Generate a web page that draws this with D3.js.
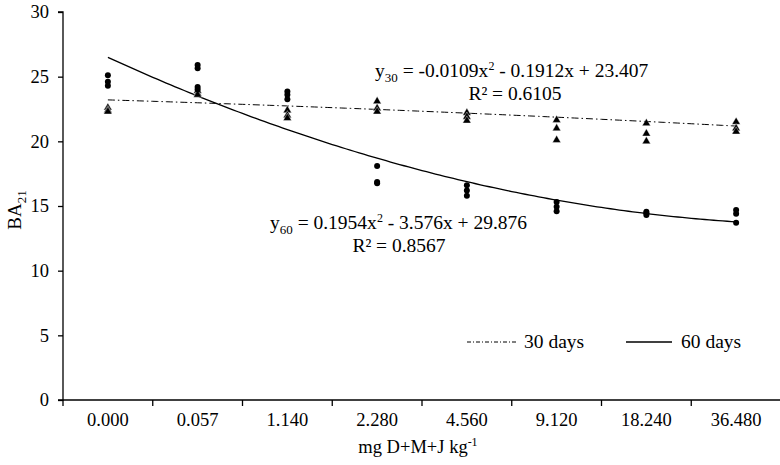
<!DOCTYPE html>
<html>
<head>
<meta charset="utf-8">
<script src="https://cdn.jsdelivr.net/npm/d3@7"></script>
<style>
  html, body { margin: 0; padding: 0; background: #fff; }
  svg { display: block; font-family: "Liberation Serif", "Times New Roman", serif; }
</style>
</head>
<body>
<svg id="chart" width="780" height="465"></svg>
<script>
const categories = ["0.000", "0.057", "1.140", "2.280", "4.560", "9.120", "18.240", "36.480"];
const yTicks = [0, 5, 10, 15, 20, 25, 30];
// observed values (3 replicates per dose)
const days30 = [
  [22.6, 22.4, 22.3],
  [23.9, 23.7, 23.6],
  [22.4, 22.0, 21.8],
  [23.1, 22.55, 22.3],
  [22.2, 21.9, 21.6],
  [21.65, 21.0, 20.1],
  [21.4, 20.6, 20.0],
  [21.5, 21.0, 20.75]
];
const days60 = [
  [25.1, 24.6, 24.3],
  [25.9, 25.65, 24.2, 24.0],
  [23.85, 23.6, 23.25],
  [18.1, 16.85, 16.75],
  [16.6, 16.2, 15.8],
  [15.3, 14.95, 14.6],
  [14.55, 14.45, 14.3],
  [14.7, 14.4, 13.7]
];
// regression coefficients [a, b, c] for a*x^2 + b*x + c
const fit30 = [-0.0109, -0.1912, 23.407];
const fit60 = [0.1954, -3.576, 29.876];
const legendLabels = ["30 days", "60 days"];

const svg = d3.select("#chart");
const mLeft = 63, mRight = 781, mTop = 12, mBottom = 400;
const FS = 19;

const x = d3.scaleBand().domain(categories).range([mLeft, mRight]).padding(0);
const y = d3.scaleLinear().domain([0, 30]).range([mBottom, mTop]);
const xi = d3.scaleLinear().domain([1, categories.length])
  .range([x(categories[0]) + x.bandwidth() / 2, x(categories[categories.length - 1]) + x.bandwidth() / 2]);

// Axes
const yAxis = d3.axisLeft(y).tickValues(yTicks).tickSize(5).tickPadding(9).tickFormat(d3.format("d"));
const gy = svg.append("g").attr("transform", `translate(${mLeft},0)`).call(yAxis);
gy.select(".domain").attr("stroke", "#000").attr("stroke-width", 1.3).attr("d", `M-5,${mTop}H0V${mBottom}H-5`);
gy.selectAll("text").attr("font-size", 18.5).attr("font-family", "Liberation Serif").attr("fill", "#000");
gy.selectAll("line").attr("stroke", "#000").attr("stroke-width", 1.3);

const xAxis = d3.axisBottom(x).tickSize(0).tickPadding(13);
const gx = svg.append("g").attr("transform", `translate(0,${mBottom})`).call(xAxis);
gx.select(".domain").attr("stroke", "#000").attr("stroke-width", 1.3).attr("d", `M${mLeft},0H${mRight}`);
gx.selectAll("text").attr("font-size", 18.5).attr("font-family", "Liberation Serif").attr("fill", "#000");
// boundary ticks
const bounds = categories.map(c => x(c)).concat([x(categories[categories.length - 1]) + x.bandwidth()]);
svg.append("g").selectAll("line").data(bounds).join("line")
  .attr("x1", d => d).attr("x2", d => d).attr("y1", mBottom).attr("y2", mBottom + 6)
  .attr("stroke", "#000").attr("stroke-width", 1.3);

// Axis titles
svg.append("text").attr("x", 418).attr("y", 453).attr("text-anchor", "middle")
  .attr("font-size", 18.5).attr("fill", "#000")
  .html('mg D+M+J kg<tspan dy="-7" font-size="12">-1</tspan>');
svg.append("text").attr("transform", `translate(21,${(mTop + mBottom) / 2 + 4}) rotate(-90)`)
  .attr("text-anchor", "middle").attr("font-size", FS).attr("fill", "#000")
  .html('BA<tspan dy="5" font-size="13">21</tspan>');

// Fitted curves
function curve(fit) {
  const pts = d3.range(1, categories.length + 0.001, 0.05).map(t => [xi(t), y(fit[0] * t * t + fit[1] * t + fit[2])]);
  return d3.line()(pts);
}
svg.append("path").attr("d", curve(fit30)).attr("fill", "none").attr("stroke", "#000")
  .attr("stroke-width", 1).attr("stroke-dasharray", "7,3,1.5,3");
svg.append("path").attr("d", curve(fit60)).attr("fill", "none").attr("stroke", "#000")
  .attr("stroke-width", 1.3);

// Points
const tri = d3.symbol().type(d3.symbolTriangle).size(30);
categories.forEach((c, i) => {
  const cx = x(c) + x.bandwidth() / 2;
  svg.append("g").selectAll("path").data(days30[i]).join("path")
    .attr("d", tri).attr("transform", d => `translate(${cx},${y(d)})`)
    .attr("fill", "#000").attr("stroke", "#fff").attr("stroke-width", 0.4);
  svg.append("g").selectAll("circle").data(days60[i]).join("circle")
    .attr("cx", cx).attr("cy", d => y(d)).attr("r", 3).attr("fill", "#000");
});

// Equations
const eq = svg.append("g").attr("font-size", FS + 0.5).attr("fill", "#000");
eq.append("text").attr("x", 375).attr("y", 77)
  .html('y<tspan dy="5" font-size="13">30</tspan><tspan dy="-5"> = -0.0109x</tspan><tspan dy="-7" font-size="12">2</tspan><tspan dy="7"> - 0.1912x + 23.407</tspan>');
eq.append("text").attr("x", 515).attr("y", 100).attr("text-anchor", "middle").text("R² = 0.6105");
eq.append("text").attr("x", 270).attr("y", 229)
  .html('y<tspan dy="5" font-size="13">60</tspan><tspan dy="-5"> = 0.1954x</tspan><tspan dy="-7" font-size="12">2</tspan><tspan dy="7"> - 3.576x + 29.876</tspan>');
eq.append("text").attr("x", 399).attr("y", 252).attr("text-anchor", "middle").text("R² = 0.8567");

// Legend
const lg = svg.append("g").attr("font-size", FS + 0.5).attr("fill", "#000");
lg.append("line").attr("x1", 467).attr("x2", 517).attr("y1", 342).attr("y2", 342)
  .attr("stroke", "#000").attr("stroke-width", 1).attr("stroke-dasharray", "4,2,1,2");
lg.append("text").attr("x", 524).attr("y", 348).text(legendLabels[0]);
lg.append("line").attr("x1", 626).attr("x2", 672).attr("y1", 342).attr("y2", 342)
  .attr("stroke", "#000").attr("stroke-width", 1.3);
lg.append("text").attr("x", 681).attr("y", 348).text(legendLabels[1]);
</script>
</body>
</html>
